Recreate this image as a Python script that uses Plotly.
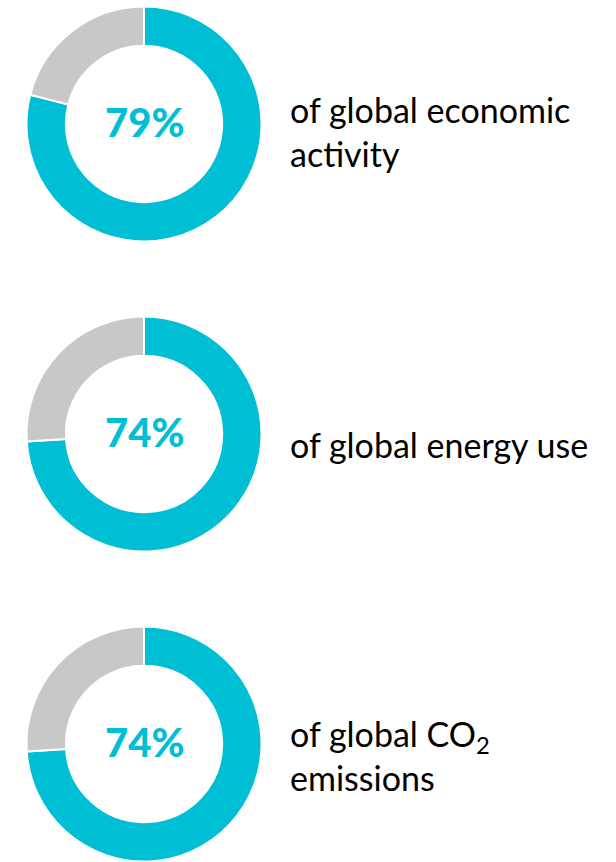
import plotly.graph_objects as go

shares = [79, 74, 74]
share_labels = ["79%", "74%", "74%"]
descriptions = [
    "of global economic<br>activity",
    "of global energy use",
    "of global CO<sub>2</sub><br>emissions",
]
slice_names = ["Share", "Rest"]

TEAL = "#00BFD5"
GREY = "#C8C8C8"

W, H = 616, 862
cx = 144
centers_y = [124, 434, 744]
label_offsets = [7, 11, 11]
R = 117.5

fig = go.Figure()
for i, (s, lab, desc) in enumerate(zip(shares, share_labels, descriptions)):
    cy = centers_y[i]
    fig.add_trace(go.Pie(
        values=[s, 100 - s],
        labels=slice_names,
        hole=0.665,
        sort=False,
        direction="clockwise",
        rotation=0,
        textinfo="none",
        hoverinfo="skip",
        showlegend=False,
        marker=dict(colors=[TEAL, GREY], line=dict(color="white", width=2)),
        domain=dict(x=[(cx - R) / W, (cx + R) / W],
                    y=[(H - cy - R) / H, (H - cy + R) / H]),
    ))
    fig.add_annotation(
        x=cx / W, y=(H - cy + 2) / H, xref="paper", yref="paper",
        text=lab, showarrow=False,
        xanchor="center", yanchor="middle",
        font=dict(family="Lato", size=40, color=TEAL, weight=900),
    )
    fig.add_annotation(
        x=288 / W, y=(H - cy - label_offsets[i]) / H, xref="paper", yref="paper",
        text=desc, showarrow=False, align="left",
        xanchor="left", yanchor="middle",
        font=dict(family="Lato", size=34, color="black"),
    )

fig.update_layout(
    width=W, height=H,
    margin=dict(l=0, r=0, t=0, b=0),
    paper_bgcolor="white", plot_bgcolor="white",
)
fig.write_html("out.html")
